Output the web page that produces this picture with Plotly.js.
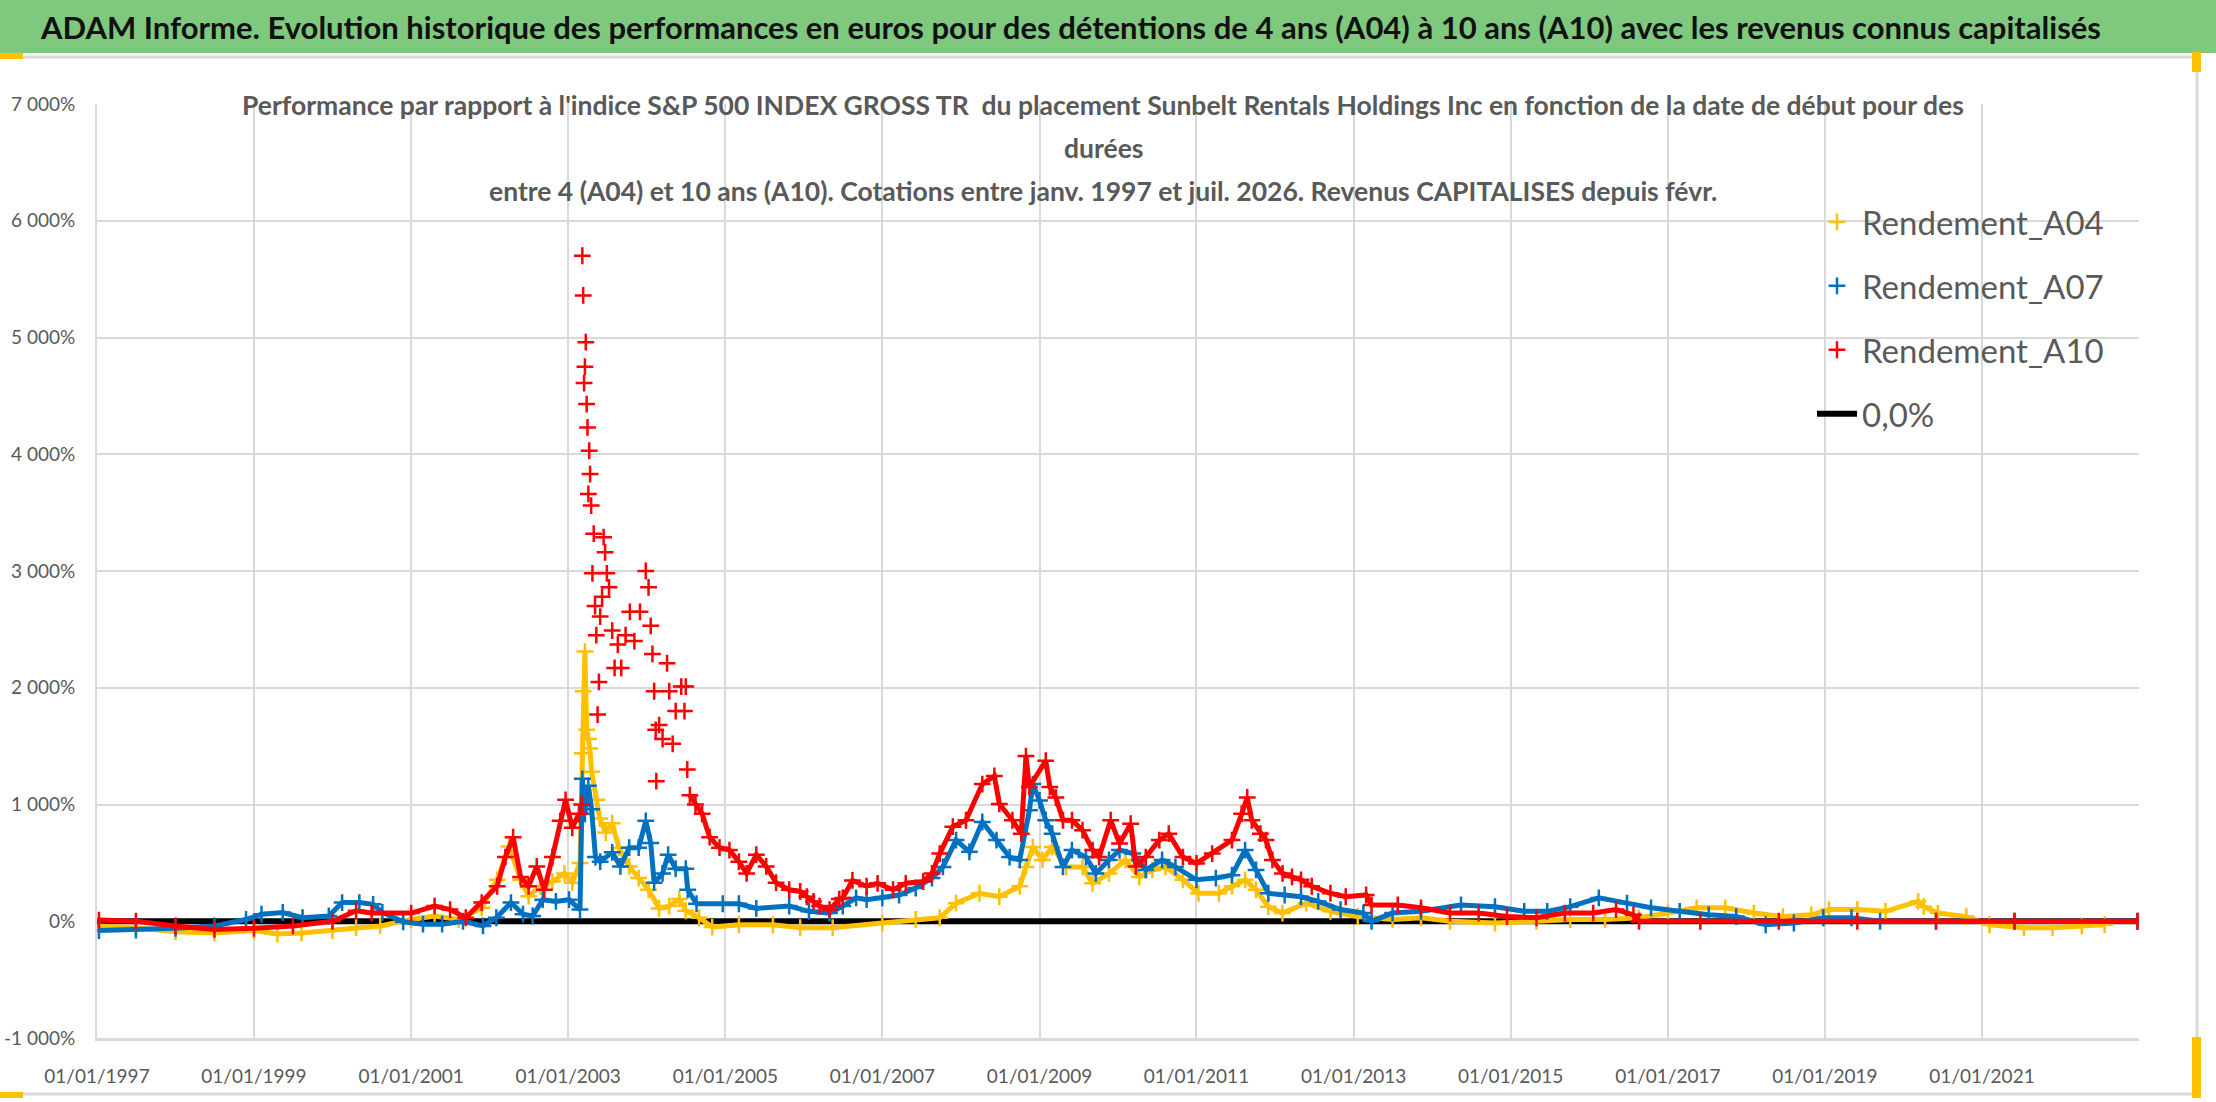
<!DOCTYPE html>
<html>
<head>
<meta charset="utf-8">
<script src="https://cdn.plot.ly/plotly-3.0.1.min.js"></script>
<style>
  html, body { margin: 0; padding: 0; background: #fff; }
  #chart { width: 2216px; height: 1102px; }
</style>
</head>
<body>
<div id="chart"></div>
<script>
// values (percent)
var datesA04 = ["1997-01-10","1997-07-01","1998-01-01","1998-07-01","1999-01-01","1999-04-20","1999-08-10","2000-01-01","2000-04-20","2000-08-10",
  "2001-01-01","2001-04-20","2001-08-10","2001-11-25","2002-02-05","2002-04-01","2002-05-25","2002-07-01","2002-08-25","2002-10-20",
  "2002-12-15","2003-01-20","2003-02-25","2003-03-08","2003-03-12","2003-03-20","2003-03-28","2003-04-05","2003-04-12","2003-04-20",
  "2003-05-15","2003-05-28","2003-06-25","2003-07-25","2003-08-25","2003-10-12","2003-11-25","2004-01-10","2004-02-28","2004-04-15",
  "2004-06-01","2004-07-01","2004-09-01","2004-11-01","2005-03-05","2005-08-10","2005-12-15","2006-05-15","2007-01-01","2007-06-05",
  "2007-09-25","2007-12-10","2008-03-28","2008-06-28","2008-10-01","2008-10-30","2008-12-01","2009-01-15","2009-03-01","2009-05-05",
  "2009-07-20","2009-09-05","2009-11-20","2010-02-05","2010-04-10","2010-06-10","2010-08-10","2010-10-30","2011-01-10","2011-04-15",
  "2011-06-15","2011-08-15","2011-10-05","2011-12-01","2012-02-05","2012-05-25","2012-09-15","2013-01-20","2013-07-01","2013-11-10",
  "2014-03-25","2014-10-20","2015-05-01","2015-10-05","2016-03-15","2016-08-20","2017-01-01","2017-05-15","2017-09-25","2018-02-05",
  "2018-06-20","2018-10-30","2019-01-20","2019-06-01","2019-10-10","2020-03-10","2020-04-05","2020-06-10","2020-10-20","2021-02-05",
  "2021-07-15","2021-11-25","2022-04-10","2022-07-25"];
var rendementA04 = [-40,-55,-90,-100,-80,-110,-100,-80,-55,-40,
  15,45,15,115,355,640,355,215,300,340,
  410,330,500,1440,1970,2310,1640,1560,1480,1280,
  1040,880,760,840,630,470,370,270,110,130,
  190,90,30,-50,-30,-30,-55,-55,-15,15,
  30,155,240,210,300,465,635,525,635,465,
  465,325,410,525,380,440,465,355,240,240,
  300,355,270,125,70,155,85,40,15,30,
  0,-15,0,15,15,30,70,115,115,70,
  40,55,100,100,85,170,125,70,40,-30,
  -55,-55,-40,-30];

var datesA07 = ["1997-01-10","1997-07-01","1998-01-01","1998-07-01","1998-11-25","1999-02-05","1999-05-15","1999-08-15","1999-12-15","2000-02-15",
  "2000-05-05","2000-07-08","2000-08-20","2000-11-25","2001-02-25","2001-05-25","2001-08-30","2001-12-01","2002-02-01","2002-04-10",
  "2002-06-05","2002-07-20","2002-09-05","2002-11-05","2003-01-05","2003-02-25","2003-03-08","2003-03-20","2003-04-05","2003-04-20",
  "2003-05-08","2003-05-30","2003-07-25","2003-09-01","2003-10-12","2003-11-25","2003-12-28","2004-01-20","2004-02-05","2004-03-15",
  "2004-04-10","2004-05-15","2004-07-01","2004-07-10","2004-08-20","2004-12-20","2005-03-05","2005-05-25","2005-10-25","2006-01-25",
  "2006-04-30","2006-07-01","2006-09-01","2006-10-20","2007-01-01","2007-03-20","2007-06-05","2007-08-20","2007-10-10","2007-12-10",
  "2008-02-10","2008-04-10","2008-06-15","2008-08-15","2008-10-01","2008-11-15","2008-12-01","2009-01-01","2009-01-30","2009-03-01",
  "2009-04-20","2009-06-01","2009-08-05","2009-09-20","2009-11-20","2010-01-08","2010-03-10","2010-05-10","2010-07-25","2010-09-25",
  "2011-01-01","2011-04-01","2011-06-15","2011-08-15","2011-10-05","2011-12-01","2012-02-15","2012-05-01","2012-07-20","2012-11-01",
  "2013-02-15","2013-03-25","2013-07-01","2013-11-10","2014-05-15","2014-10-20","2015-03-05","2015-06-20","2015-10-05","2016-02-15",
  "2016-06-25","2016-10-15","2017-02-25","2017-07-10","2017-11-15","2018-04-01","2018-08-10","2018-12-25","2019-05-05","2019-09-15",
  "2020-06-01","2021-06-01","2022-12-25"];
var rendementA07 = [-80,-75,-60,-40,15,60,75,30,45,160,
  160,145,75,-5,-25,-25,0,-40,30,160,
  60,45,185,170,185,100,1220,920,1160,960,
  550,510,590,470,630,630,860,670,330,410,
  570,450,450,270,150,150,150,110,130,85,
  70,130,200,185,200,225,285,370,465,695,
  595,850,695,550,525,950,1175,1035,865,750,
  465,610,550,410,525,610,580,440,525,465,
  355,370,395,610,440,240,225,210,170,100,
  70,0,70,85,140,125,85,85,125,200,
  155,115,85,55,40,-30,-15,30,30,0,
  0,0,0];

var datesA10 = ["1997-01-10","1997-07-01","1998-01-01","1998-07-01","1999-01-01","1999-07-01","2000-01-01","2000-04-20","2000-07-01","2001-01-01",
  "2001-04-20","2001-07-01","2001-09-12","2001-11-25","2002-02-05","2002-03-15","2002-04-20","2002-05-25","2002-07-01","2002-08-08",
  "2002-09-12","2002-10-20","2002-11-25","2002-12-20","2003-01-20","2003-02-20","2003-03-05","2003-03-08","2003-03-12","2003-03-16",
  "2003-03-20","2003-03-24","2003-03-28","2003-04-01","2003-04-05","2003-04-09","2003-04-13","2003-04-18","2003-04-24","2003-04-30",
  "2003-05-06","2003-05-12","2003-05-18","2003-05-24","2003-05-30","2003-06-08","2003-06-15","2003-06-22","2003-06-30","2003-07-10",
  "2003-07-25","2003-08-05","2003-08-20","2003-09-05","2003-09-25","2003-10-15","2003-11-05","2003-12-01","2003-12-28","2004-01-10",
  "2004-01-20","2004-01-28","2004-02-05","2004-02-12","2004-02-15","2004-02-28","2004-03-15","2004-04-05","2004-04-15","2004-05-01",
  "2004-05-15","2004-06-10","2004-06-25","2004-07-01","2004-07-08","2004-07-20","2004-08-15","2004-09-15","2004-10-20","2004-12-05",
  "2005-01-20","2005-03-05","2005-04-10","2005-05-25","2005-07-10","2005-08-25","2005-10-25","2005-12-15","2006-01-15","2006-02-15",
  "2006-03-15","2006-05-01","2006-06-15","2006-07-01","2006-08-15","2006-10-20","2006-12-10","2007-02-20","2007-04-20","2007-07-10",
  "2007-08-20","2007-09-25","2007-11-25","2008-01-25","2008-04-10","2008-06-05","2008-06-28","2008-08-28","2008-10-08","2008-10-30",
  "2008-11-15","2009-01-30","2009-02-18","2009-03-18","2009-04-20","2009-06-01","2009-07-20","2009-09-05","2009-10-05","2009-11-28",
  "2010-01-08","2010-03-01","2010-03-25","2010-05-10","2010-07-12","2010-08-25","2010-10-30","2011-01-01","2011-03-15","2011-06-15",
  "2011-07-30","2011-08-25","2011-09-15","2011-10-25","2011-11-20","2011-12-20","2012-02-05","2012-03-20","2012-05-01","2012-06-20",
  "2012-09-15","2012-11-25","2013-02-28","2013-03-25","2013-07-25","2013-11-10","2014-03-25","2014-08-05","2014-12-15","2015-05-01",
  "2015-09-10","2016-01-20","2016-05-05","2016-07-25","2016-08-20","2017-06-01","2018-06-01","2019-06-01","2020-06-01","2021-06-01",
  "2022-12-25"];
var rendementA10 = [10,0,-40,-70,-60,-40,0,90,70,70,
  130,100,30,160,300,550,720,380,300,470,
  270,550,860,1040,800,920,1000,5700,5360,4610,
  4750,4960,4430,4230,3660,4030,3830,3560,2980,3320,
  2700,2450,1770,2050,2610,2780,3290,3160,2980,2860,
  2490,2170,2370,2170,2450,2650,2400,2650,3000,2860,
  2530,2290,1970,1640,1200,1680,1560,2210,1970,1520,
  1800,2010,1800,2010,1300,1080,1000,920,720,630,
  610,510,410,570,470,330,270,255,210,170,
  130,100,190,200,350,300,325,270,325,340,
  410,580,810,865,1175,1245,1005,865,750,1415,
  1150,1375,1150,1060,865,865,780,610,550,865,
  665,835,470,550,695,750,550,495,580,695,
  920,1060,865,750,695,525,410,380,355,300,
  240,210,225,140,140,115,70,70,40,30,
  70,70,100,55,0,0,0,0,0,0,
  0];

var zeroDates = ["1997-01-01", "2023-01-01"];
var zeroValues = [0, 0];

var yTickVals = [-1000, 0, 1000, 2000, 3000, 4000, 5000, 6000, 7000];
var yTickText = ["-1 000%", "0%", "1 000%", "2 000%", "3 000%", "4 000%", "5 000%", "6 000%", "7 000%"];
var xTickVals = ["1997-01-01","1999-01-01","2001-01-01","2003-01-01","2005-01-01","2007-01-01","2009-01-01",
  "2011-01-01","2013-01-01","2015-01-01","2017-01-01","2019-01-01","2021-01-01"];

// where the points are too scattered to read as a band, leave them unjoined
var scatterFrom = "2003-03-01", scatterTo = "2004-07-10";

var FONT = 'Lato, "Liberation Sans", sans-serif';
var GREY = "#595959";
var GRID = "#D9D9D9";

function series(name, x, y, color, rank, breakSpike) {
  var yLine = y.map(function (v, i) {
    return (breakSpike && x[i] >= scatterFrom && x[i] <= scatterTo) ? null : v;
  });
  var line = {
    type: "scatter", mode: "lines", x: x, y: yLine, connectgaps: false,
    line: {color: color, width: 5},
    showlegend: false, legendgroup: name, hoverinfo: "skip"
  };
  var marks = {
    type: "scatter", mode: "markers", x: x, y: y, name: name,
    marker: {symbol: "cross-thin", size: 12, color: color, line: {color: color, width: 2.5}},
    legendgroup: name, legendrank: rank
  };
  return [line, marks];
}

var data = [{
  type: "scatter", mode: "lines", x: zeroDates, y: zeroValues, name: "0,0%",
  line: {color: "#000000", width: 6}, legendgroup: "zero", legendrank: 4
}].concat(
  series("Rendement_A04", datesA04, rendementA04, "#FFC000", 1, false),
  series("Rendement_A07", datesA07, rendementA07, "#0070C0", 2, false),
  series("Rendement_A10", datesA10, rendementA10, "#FF0000", 3, true)
);

// plot area: x 97..2139, y 104..1038 px
var L = 97, R = 2139, T = 104, B = 1038;
function px(v) { return (v - L) / (R - L); }
function py(v) { return (B - v) / (B - T); }

var layout = {
  width: 2216, height: 1102,
  margin: {l: L, r: 2216 - R, t: T, b: 1102 - B},
  paper_bgcolor: "#ffffff", plot_bgcolor: "#ffffff",
  font: {family: FONT, color: GREY},
  title: {
    text: "<b>ADAM Informe. Evolution historique des performances en euros pour des détentions de 4 ans (A04) à 10 ans (A10) avec les revenus connus capitalisés</b>",
    font: {family: FONT, size: 31, color: "#111111"},
    xref: "container", yref: "container", x: 1071 / 2216, y: 1 - 28 / 1102,
    xanchor: "center", yanchor: "middle"
  },
  showlegend: true,
  legend: {
    x: px(1812), y: py(194), xanchor: "left", yanchor: "top",
    bgcolor: "rgba(255,255,255,0)", font: {size: 33, color: GREY, family: FONT},
    traceorder: "grouped", tracegroupgap: 18, itemsizing: "trace", itemwidth: 40
  },
  xaxis: {
    type: "date", range: ["1997-01-01", "2023-01-01"],
    tickvals: xTickVals, tickformat: "%d/%m/%Y",
    tickfont: {size: 19, color: GREY, family: FONT},
    showgrid: true, gridcolor: GRID, gridwidth: 2,
    showline: true, linecolor: GRID, linewidth: 3,
    ticks: "outside", ticklen: 19, tickcolor: "rgba(0,0,0,0)",
    zeroline: false, fixedrange: true
  },
  yaxis: {
    range: [-1000, 7000], tickvals: yTickVals, ticktext: yTickText,
    tickfont: {size: 19, color: GREY, family: FONT},
    showgrid: true, gridcolor: GRID, gridwidth: 2,
    showline: true, linecolor: GRID, linewidth: 2,
    ticks: "outside", ticklen: 16, tickcolor: "rgba(0,0,0,0)",
    zeroline: false, fixedrange: true
  },
  shapes: [
    // green banner
    {type: "rect", xref: "paper", yref: "paper", x0: px(0), x1: px(2216), y0: py(53), y1: py(0),
      fillcolor: "#7FC97F", line: {width: 0}, layer: "below"},
    // frame
    {type: "line", xref: "paper", yref: "paper", x0: px(0), x1: px(2197), y0: py(57), y1: py(57),
      line: {color: GRID, width: 3}},
    {type: "line", xref: "paper", yref: "paper", x0: px(2197), x1: px(2197), y0: py(57), y1: py(1094),
      line: {color: GRID, width: 3}},
    {type: "line", xref: "paper", yref: "paper", x0: px(0), x1: px(2197), y0: py(1094), y1: py(1094),
      line: {color: GRID, width: 3}},
    // white boxes behind chart title and legend
    {type: "rect", xref: "paper", yref: "paper", x0: px(228), x1: px(1975), y0: py(212), y1: py(86),
      fillcolor: "#ffffff", line: {width: 0}, layer: "between"},
    {type: "rect", xref: "paper", yref: "paper", x0: px(1808), x1: px(2139), y0: py(450), y1: py(193),
      fillcolor: "#ffffff", line: {width: 0}, layer: "between"},
    // selection handles
    {type: "rect", xref: "paper", yref: "paper", x0: px(0), x1: px(23), y0: py(59), y1: py(53),
      fillcolor: "#FFC000", line: {width: 0}},
    {type: "rect", xref: "paper", yref: "paper", x0: px(0), x1: px(23), y0: py(1098), y1: py(1092),
      fillcolor: "#FFC000", line: {width: 0}},
    {type: "rect", xref: "paper", yref: "paper", x0: px(2192), x1: px(2201), y0: py(72), y1: py(52),
      fillcolor: "#FFC000", line: {width: 0}},
    {type: "rect", xref: "paper", yref: "paper", x0: px(2192), x1: px(2201), y0: py(1098), y1: py(1037),
      fillcolor: "#FFC000", line: {width: 0}}
  ],
  annotations: [
    {text: "<b>Performance par rapport à l'indice S&P 500 INDEX GROSS TR  du placement Sunbelt Rentals Holdings Inc en fonction de la date de début pour des</b>",
      xref: "paper", yref: "paper", x: px(1103), y: py(105), xanchor: "center", yanchor: "middle",
      showarrow: false, font: {size: 26.5, color: GREY, family: FONT}},
    {text: "<b>durées</b>",
      xref: "paper", yref: "paper", x: px(1103), y: py(148), xanchor: "center", yanchor: "middle",
      showarrow: false, font: {size: 26.5, color: GREY, family: FONT}},
    {text: "<b>entre 4 (A04) et 10 ans (A10). Cotations entre janv. 1997 et juil. 2026. Revenus CAPITALISES depuis févr.</b>",
      xref: "paper", yref: "paper", x: px(1103), y: py(191), xanchor: "center", yanchor: "middle",
      showarrow: false, font: {size: 26.5, color: GREY, family: FONT}}
  ]
};

Plotly.newPlot("chart", data, layout, {displayModeBar: false, staticPlot: true});
</script>
</body>
</html>
